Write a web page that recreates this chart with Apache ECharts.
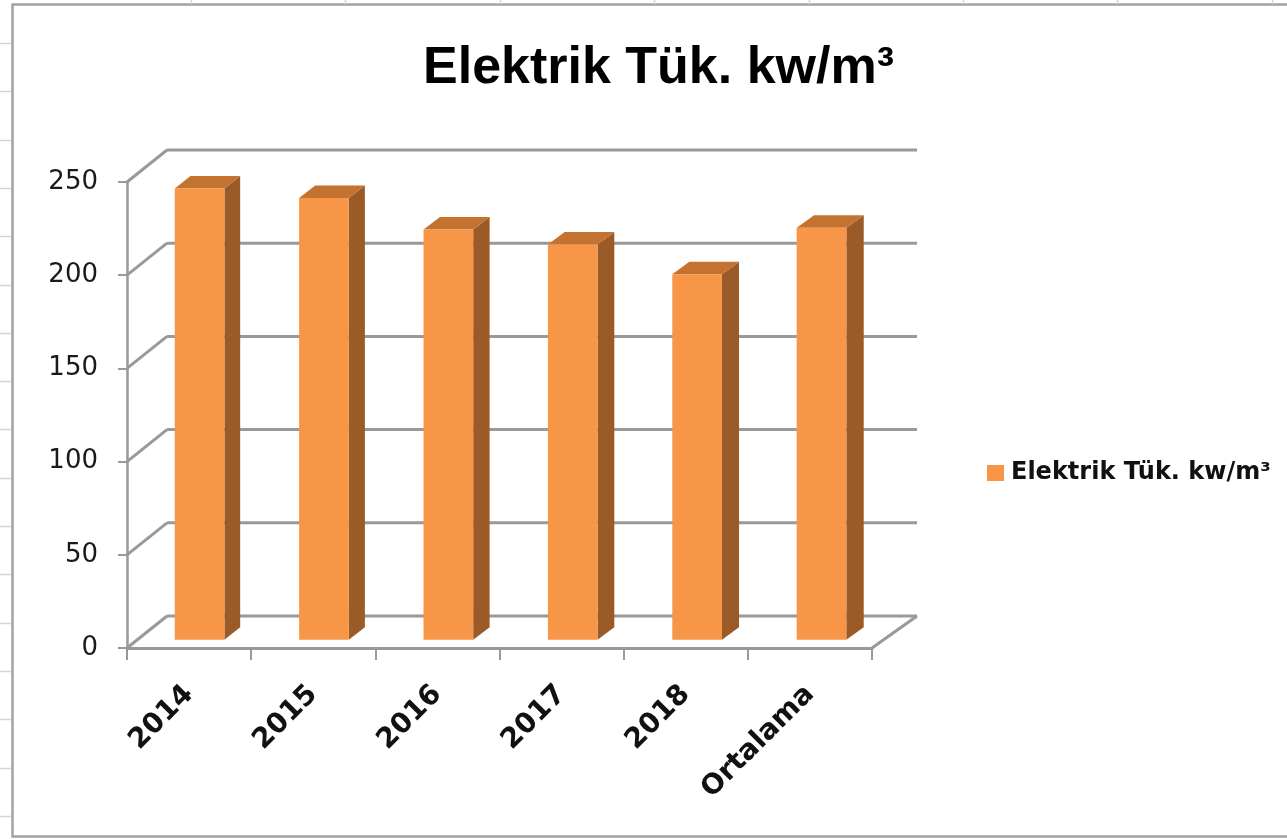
<!DOCTYPE html>
<html>
<head>
<meta charset="utf-8">
<script src="https://cdn.jsdelivr.net/npm/echarts@6/dist/echarts.min.js"></script>
<style>
html,body{margin:0;padding:0;background:#fff;}
#chart{width:1287px;height:839px;}
</style>
</head>
<body>
<div id="chart"></div>
<script>
const TITLE = 'Elektrik Tük. kw/m³';
const SERIES_NAME = 'Elektrik Tük. kw/m³';
const CATEGORIES = ['2014', '2015', '2016', '2017', '2018', 'Ortalama'];
const VALUES = [242, 237, 220, 212, 196, 221];
const Y_TICKS = [0, 50, 100, 150, 200, 250];
const Y_MIN = 0, Y_MAX = 250, Y_STEP = 50;

// 3D look parameters (pixels / fractions)
const DX_L = 40, DX_R = 45, DY = -32;
const F_FRONT = 0.26, F_BACK = 0.65, BAR_W = 0.40;
const C_FRONT = '#F79646', C_TOP = '#C3722F', C_SIDE = '#9B5B28';
const C_GRID = '#999999';

const chart = echarts.init(document.getElementById('chart'), null, {renderer: 'canvas'});

function plotEdges(api) {
  const bw = api.size([1, 0])[0];
  const L = api.coord([0, 0])[0] - bw / 2;
  const R = api.coord([CATEGORIES.length - 1, 0])[0] + bw / 2;
  return {L, R, bw};
}
function dxAt(x, L, R) { return DX_L + (DX_R - DX_L) * (x - L) / (R - L); }

// spreadsheet decoration
const deco = [];
for (let k = 0; k < 17; k++) {
  const y = Math.round(43 + 48.3 * k) + 0.5;
  deco.push({type: 'line', shape: {x1: 0, y1: y, x2: 11, y2: y}, style: {stroke: '#d4d4d4', lineWidth: 1.5}, silent: true});
}
for (let k = 0; k < 8; k++) {
  const x = Math.round(191 + 154.4 * k) + 0.5;
  deco.push({type: 'line', shape: {x1: x, y1: 0, x2: x, y2: 4}, style: {stroke: '#d4d4d4', lineWidth: 1.5}, silent: true});
}
deco.push({type: 'rect', shape: {x: 12.5, y: 4.5, width: 1300, height: 832}, style: {fill: '#fff', stroke: '#a3a3a3', lineWidth: 2.5}, silent: true, z: -1});

const option = {
  backgroundColor: '#ffffff',
  animation: false,
  graphic: deco,
  title: {
    text: TITLE,
    left: 423, top: 43, padding: 0,
    textStyle: {fontFamily: 'Liberation Sans, Arial, sans-serif', fontWeight: 'bold', fontSize: 52, color: '#000'}
  },
  legend: {
    data: [SERIES_NAME],
    orient: 'vertical',
    left: 982, top: 456,
    icon: 'rect', itemWidth: 17, itemHeight: 16,
    textStyle: {fontFamily: 'DejaVu Sans', fontWeight: 'bold', fontSize: 24, color: '#111', padding: [0, 0, 0, 2]}
  },
  grid: {left: 127, top: 182, right: 415, bottom: 191, containLabel: false},
  xAxis: {
    type: 'category',
    data: CATEGORIES,
    boundaryGap: true,
    axisLine: {show: true, lineStyle: {color: C_GRID, width: 3}},
    axisTick: {show: true, length: 12, interval: 0, alignWithLabel: false, lineStyle: {color: C_GRID, width: 2}},
    axisLabel: {interval: 0, rotate: 45, margin: 42, fontFamily: 'DejaVu Sans', fontWeight: 'bold', fontSize: 28, color: '#111'},
    splitLine: {show: false}
  },
  yAxis: {
    type: 'value',
    min: Y_MIN, max: Y_MAX, interval: Y_STEP,
    axisLine: {show: true, lineStyle: {color: C_GRID, width: 2.5}},
    axisTick: {show: true, length: 9, lineStyle: {color: C_GRID, width: 2}},
    axisLabel: {margin: 29, fontFamily: 'DejaVu Sans', fontSize: 26, color: '#1a1a1a'},
    splitLine: {show: false}
  },
  series: [
    {
      type: 'custom',
      name: 'frame',
      silent: true,
      clip: false,
      z: 1,
      encode: {x: 0, y: 1},
      data: Y_TICKS.map(t => [0, t]),
      renderItem: function (params, api) {
        const t = api.value(1);
        const e = plotEdges(api);
        const y = api.coord([0, t])[1];
        const st = {stroke: C_GRID, lineWidth: 3};
        const ch = [
          {type: 'line', shape: {x1: e.L + DX_L, y1: y + DY, x2: e.R + DX_R, y2: y + DY}, style: st},
          {type: 'line', shape: {x1: e.L, y1: y, x2: e.L + DX_L, y2: y + DY}, style: st}
        ];
        if (t === Y_MIN) {
          ch.push({type: 'line', shape: {x1: e.R, y1: y, x2: e.R + DX_R, y2: y + DY}, style: st});
        }
        return {type: 'group', children: ch};
      }
    },
    {
      type: 'custom',
      name: SERIES_NAME,
      clip: false,
      z: 3,
      itemStyle: {color: C_FRONT},
      encode: {x: 0, y: 1},
      data: VALUES.map((v, i) => [i, v]),
      renderItem: function (params, api) {
        const i = api.value(0), v = api.value(1);
        const e = plotEdges(api);
        const base = api.coord([i, 0]);
        const top = api.coord([i, v]);
        const hw = e.bw * BAR_W / 2;
        const dx = dxAt(base[0], e.L, e.R);
        const ox1 = dx * F_FRONT, oy1 = DY * F_FRONT;
        const ox2 = dx * F_BACK, oy2 = DY * F_BACK;
        const xl1 = base[0] - hw + ox1, xr1 = base[0] + hw + ox1;
        const xl2 = base[0] - hw + ox2, xr2 = base[0] + hw + ox2;
        const yt1 = top[1] + oy1, yb1 = base[1] + oy1;
        const yt2 = top[1] + oy2, yb2 = base[1] + oy2;
        return {
          type: 'group',
          children: [
            {type: 'polygon', shape: {points: [[xr1, yt1], [xr2, yt2], [xr2, yb2], [xr1, yb1]]}, style: {fill: C_SIDE}},
            {type: 'polygon', shape: {points: [[xl1, yt1], [xr1, yt1], [xr2, yt2], [xl2, yt2]]}, style: {fill: C_TOP}},
            {type: 'rect', shape: {x: xl1, y: yt1, width: xr1 - xl1, height: yb1 - yt1}, style: {fill: C_FRONT}}
          ]
        };
      }
    }
  ]
};
chart.setOption(option);
</script>
</body>
</html>
